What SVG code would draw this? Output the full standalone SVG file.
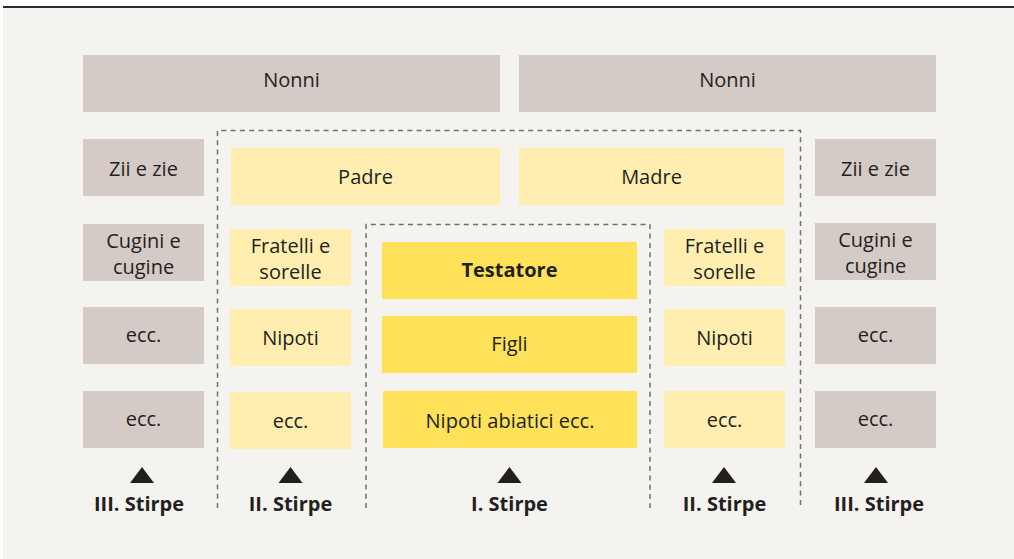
<svg xmlns="http://www.w3.org/2000/svg" width="1014" height="559" viewBox="0 0 1014 559">
<style>
.t{font-family:"Open Sans","Liberation Sans",sans-serif;font-size:20px;fill:#231f20;text-anchor:middle}
.b{font-weight:bold}
.g{fill:#d4cbc6}
.ly{fill:#ffeeaf}
.sy{fill:#ffe15a}
.d{fill:none;stroke:#6f6f6f;stroke-width:1.5;stroke-dasharray:5 4.3}
.tri{fill:#231f20}
</style>
<rect x="0" y="0" width="1014" height="559" fill="#ffffff"/>
<rect x="3" y="8" width="1011" height="551" fill="#f4f3f0"/>
<rect x="3" y="6" width="1011" height="2" fill="#2b2b2b"/>

<g id="connectors">
<path class="d" d="M217.5,508 V130.5 H800.5 V508"/>
<path class="d" d="M366,508 V224.5 H650 V508"/>
</g>

<g id="nonni-left"><rect class="g" x="83" y="55" width="417" height="57"/><text class="t" x="291.5" y="87">Nonni</text></g>
<g id="nonni-right"><rect class="g" x="519" y="55" width="417" height="57"/><text class="t" x="727.5" y="87">Nonni</text></g>

<g id="zii-left"><rect class="g" x="83" y="139" width="121" height="57"/><text class="t" x="143.5" y="176">Zii e zie</text></g>
<g id="cugini-left"><rect class="g" x="83" y="224" width="121" height="57"/><text class="t" x="143.5" y="247.5">Cugini e</text><text class="t" x="143.5" y="273.5">cugine</text></g>
<g id="ecc3-left-1"><rect class="g" x="83" y="307" width="121" height="57"/><text class="t" x="143.5" y="342">ecc.</text></g>
<g id="ecc3-left-2"><rect class="g" x="83" y="391" width="121" height="57"/><text class="t" x="143.5" y="426">ecc.</text></g>

<g id="zii-right"><rect class="g" x="815" y="139" width="121" height="57"/><text class="t" x="875.5" y="176">Zii e zie</text></g>
<g id="cugini-right"><rect class="g" x="815" y="223" width="121" height="57"/><text class="t" x="875.5" y="246.5">Cugini e</text><text class="t" x="875.5" y="272.5">cugine</text></g>
<g id="ecc3-right-1"><rect class="g" x="815" y="307" width="121" height="57"/><text class="t" x="875.5" y="342">ecc.</text></g>
<g id="ecc3-right-2"><rect class="g" x="815" y="391" width="121" height="57"/><text class="t" x="875.5" y="426">ecc.</text></g>

<g id="padre"><rect class="ly" x="231" y="148" width="269" height="57"/><text class="t" x="365.5" y="184">Padre</text></g>
<g id="madre"><rect class="ly" x="519" y="148" width="265" height="57"/><text class="t" x="651.5" y="184">Madre</text></g>

<g id="fratelli-left"><rect class="ly" x="230" y="229" width="121" height="57"/><text class="t" x="290.5" y="253">Fratelli e</text><text class="t" x="290.5" y="279">sorelle</text></g>
<g id="nipoti-left"><rect class="ly" x="230" y="309" width="121" height="57"/><text class="t" x="290.5" y="345">Nipoti</text></g>
<g id="ecc2-left"><rect class="ly" x="230" y="392" width="121" height="57"/><text class="t" x="290.5" y="428">ecc.</text></g>

<g id="fratelli-right"><rect class="ly" x="664" y="229" width="121" height="57"/><text class="t" x="724.5" y="253">Fratelli e</text><text class="t" x="724.5" y="279">sorelle</text></g>
<g id="nipoti-right"><rect class="ly" x="664" y="309" width="121" height="57"/><text class="t" x="724.5" y="345">Nipoti</text></g>
<g id="ecc2-right"><rect class="ly" x="664" y="391" width="121" height="57"/><text class="t" x="724.5" y="427">ecc.</text></g>

<g id="testatore"><rect class="sy" x="382" y="242" width="255" height="57"/><text class="t b" x="509.5" y="277">Testatore</text></g>
<g id="figli"><rect class="sy" x="382" y="316" width="255" height="57"/><text class="t" x="509.5" y="351">Figli</text></g>
<g id="nipoti-abiatici"><rect class="sy" x="383" y="391" width="254" height="57"/><text class="t" x="510" y="428">Nipoti abiatici ecc.</text></g>

<g id="stirpe-3-left"><polygon class="tri" points="130,483 142,467 154,483"/><text class="t b" x="139" y="511">III. Stirpe</text></g>
<g id="stirpe-2-left"><polygon class="tri" points="278.5,483 290.5,467 302.5,483"/><text class="t b" x="290.5" y="511">II. Stirpe</text></g>
<g id="stirpe-1"><polygon class="tri" points="497.5,483 509.5,467 521.5,483"/><text class="t b" x="509.5" y="511">I. Stirpe</text></g>
<g id="stirpe-2-right"><polygon class="tri" points="712,483 724,467 736,483"/><text class="t b" x="724.5" y="511">II. Stirpe</text></g>
<g id="stirpe-3-right"><polygon class="tri" points="864,483 876,467 888,483"/><text class="t b" x="879" y="511">III. Stirpe</text></g>
</svg>
